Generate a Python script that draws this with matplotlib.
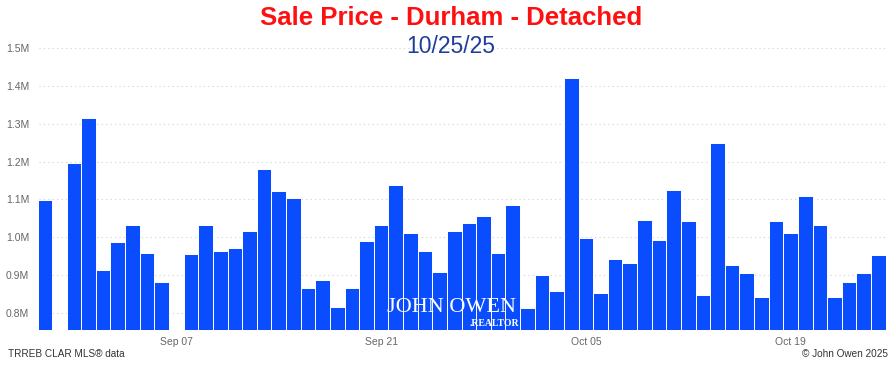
import matplotlib
matplotlib.use("Agg")
import matplotlib.pyplot as plt
import matplotlib.dates as mdates
import numpy as np
import pandas as pd

# daily median sale price (millions), NaN = no sales
start_date = "2025-08-29"
prices = [
	1.098, np.nan, 1.196, 1.316, 0.913, 0.986, 1.033, 0.958, 0.882, np.nan,
	0.956, 1.032, 0.964, 0.972, 1.015, 1.180, 1.122, 1.105, 0.864, 0.887,
	0.814, 0.866, 0.990, 1.033, 1.139, 1.012, 0.962, 0.908, 1.015, 1.037,
	1.055, 0.958, 1.084, 0.812, 0.900, 0.856, 1.422, 0.997, 0.851, 0.942,
	0.931, 1.045, 0.993, 1.126, 1.044, 0.846, 1.249, 0.927, 0.904, 0.842,
	1.043, 1.011, 1.108, 1.031, 0.842, 0.881, 0.904, 0.953,
]
tick_dates = ["2025-09-07", "2025-09-21", "2025-10-05", "2025-10-19"]
y_ticks = [0.8, 0.9, 1.0, 1.1, 1.2, 1.3, 1.4, 1.5]

title = "Sale Price - Durham - Detached"
subtitle = "10/25/25"

plt.rcParams['font.family'] = ['Liberation Sans', 'DejaVu Sans']

dates = pd.date_range(start_date, periods=len(prices), freq="D")
vals = np.array(prices)
ok = ~np.isnan(vals)

fig = plt.figure(figsize=(8.96, 3.65), dpi=100)
ax = fig.add_axes([0.0435, 0.0959, 0.9450, 0.7921])

ax.bar(dates[ok], vals[ok], width=1.0, color="#0a4dff", edgecolor="white",
	linewidth=0.7, zorder=2)

ax.set_ylim(0.754, 1.52)
ax.set_xlim(mdates.date2num(dates[0]) - 0.39, mdates.date2num(dates[-1]) + 0.5)

ax.set_yticks(y_ticks)
ax.set_yticklabels([f"{v:.1f}M" for v in y_ticks])
ax.set_xticks(pd.to_datetime(tick_dates))
ax.xaxis.set_major_formatter(mdates.DateFormatter("%b %d"))

ax.grid(axis="y", linestyle=(0, (1, 3)), color="#d0d0d0", linewidth=0.8, zorder=0)
ax.tick_params(axis="both", length=0, labelsize=7.5, labelcolor="#666666")
ax.tick_params(axis="y", pad=7)
ax.tick_params(axis="x", pad=5)
for s in ax.spines.values():
	s.set_visible(False)

fig.text(0.503, 0.95, title, ha="center", va="center", color="#ff1010",
	fontsize=18.5, fontweight="bold")
fig.text(0.503, 0.872, subtitle, ha="center", va="center", color="#1f3d9c",
	fontsize=16.5)

fig.text(0.009, 0.03, "TRREB CLAR MLS\u00ae data", ha="left", va="center",
	color="#333333", fontsize=7.2)
fig.text(0.991, 0.03, "\u00a9 John Owen 2025", ha="right", va="center",
	color="#333333", fontsize=7.2)

# watermark
fig.text(0.504, 0.158, "JOHN OWEN", ha="center", va="center", color="white",
	fontsize=16, family="Liberation Serif", zorder=5)
fig.text(0.552, 0.114, ".REALTOR", ha="center", va="center", color="white",
	fontsize=7, fontweight="bold", family="Liberation Serif", zorder=5)

fig.savefig("out.png", dpi=100)
